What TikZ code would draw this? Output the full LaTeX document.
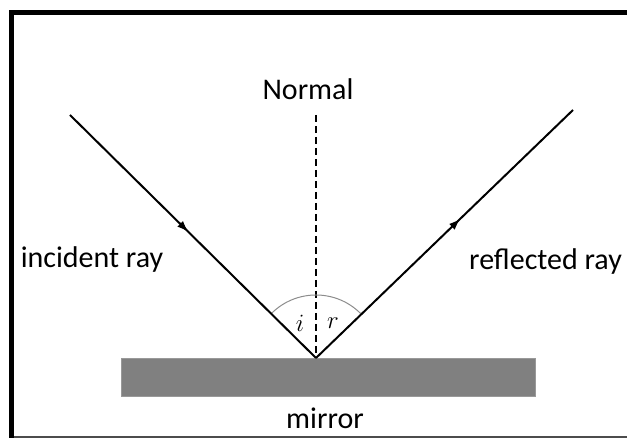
\documentclass[tikz,border=0pt]{standalone}
\usepackage{fontspec}
\setmainfont{Carlito}
\usetikzlibrary{arrows.meta,decorations.markings}
\definecolor{mirrorgray}{rgb}{0.5,0.5,0.5}
\definecolor{arcgray}{rgb}{0.55,0.55,0.55}
\definecolor{framegray}{rgb}{0.3,0.3,0.3}
\begin{document}
\begin{tikzpicture}[x=1pt,y=1pt,
  ray/.style={line width=2pt,color=black},
  raytip/.style={decoration={markings,mark=at position #1 with {\arrow[line width=1pt]{Latex[length=11pt,width=8pt]}}},postaction={decorate}},
  label/.style={inner sep=0pt,font=\fontsize{30}{36}\selectfont},
  angletext/.style={inner sep=0pt,font=\fontsize{24}{24}\selectfont}]
\useasboundingbox (0,0) rectangle (627,438);
% frame
\draw[line width=5pt,color=black] (11.7,0) -- (11.7,425.5) -- (627,425.5);
\draw[line width=2pt,color=framegray] (14,1) -- (627,1);
% mirror
\node[fill=mirrorgray,draw=mirrorgray!80,minimum width=414,minimum height=38,inner sep=0pt] (mirror) at (328,61) {};
\coordinate (hit) at (316,80);
\coordinate (src) at (70,323);
\coordinate (out) at (573,328);
\coordinate (top) at (316,323);
% normal
\draw[line width=1.5pt,dash pattern=on 7pt off 4pt] (top) -- (hit);
% angle arc
\draw[color=arcgray,line width=1pt] (hit) ++(135:63) arc (135:45:63);
% rays
\draw[ray,raytip=0.48] (src) -- (hit);
\draw[ray,raytip=0.56] (hit) -- (out);
\begin{scope}
\node[label] (normal) at (308,349) {Normal};
\node[label] (incident) at (92,178.5) {incident ray};
\node[label] (reflected) at (545.5,176) {reflected ray};
\node[label] (mirrortext) at (325,20) {mirror};
\node[angletext] (angi) at (300,115) {$i$};
\node[angletext] (angr) at (333,115) {$r$};
\end{scope}
\end{tikzpicture}
\end{document}
